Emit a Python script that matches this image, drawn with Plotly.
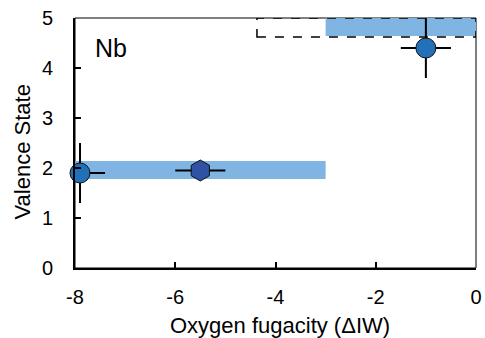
import plotly.graph_objects as go

# Data
circle_x = [-7.9, -1.0]
circle_y = [1.9, 4.4]
circle_xerr_plus = [0.5, 0.5]
circle_xerr_minus = [0.1, 0.5]
circle_yerr = [0.6, 0.6]

hex_x = [-5.5]
hex_y = [1.95]
hex_xerr = [0.5]

band_low_x = [-8.0, -3.0]
band_low_y = [1.78, 2.14]
band_high_x = [-3.0, 0.0]
band_high_y = [4.64, 5.0]
dash_box_x = [-4.37, 0.0]
dash_box_y = [4.62, 5.0]

x_ticks = [-8, -6, -4, -2, 0]
x_tick_labels = ["-8", "-6", "-4", "-2", "0"]
y_ticks = [0, 1, 2, 3, 4, 5]

FONT = "Liberation Sans, Arial, sans-serif"

fig = go.Figure()

# bands
fig.add_shape(type="rect", xref="x", yref="y", x0=band_low_x[0], x1=band_low_x[1],
              y0=band_low_y[0], y1=band_low_y[1], fillcolor="#80B4E2", line_width=0, layer="below")
fig.add_shape(type="rect", xref="x", yref="y", x0=band_high_x[0], x1=band_high_x[1],
              y0=band_high_y[0], y1=band_high_y[1], fillcolor="#80B4E2", line_width=0, layer="below")
fig.add_shape(type="rect", xref="x", yref="y", x0=dash_box_x[0], x1=dash_box_x[1],
              y0=dash_box_y[0], y1=dash_box_y[1], fillcolor="rgba(0,0,0,0)",
              line=dict(color="black", width=1.5, dash="dash"))
# thin top/right frame
fig.add_shape(type="rect", xref="paper", yref="paper", x0=0, x1=1, y0=0, y1=1,
              line=dict(color="black", width=1), fillcolor="rgba(0,0,0,0)", layer="below")

fig.add_trace(go.Scatter(
    x=hex_x, y=hex_y, mode="markers",
    marker=dict(symbol="hexagon", size=21, color="#3052A4", line=dict(color="#111", width=1)),
    error_x=dict(type="data", array=hex_xerr, color="black", thickness=2, width=0),
    cliponaxis=False, showlegend=False))

fig.add_trace(go.Scatter(
    x=circle_x, y=circle_y, mode="markers",
    marker=dict(symbol="circle", size=20, color="#2170B8", line=dict(color="#111", width=1)),
    error_x=dict(type="data", symmetric=False, array=circle_xerr_plus, arrayminus=circle_xerr_minus,
                 color="black", thickness=2, width=0),
    error_y=dict(type="data", array=circle_yerr, color="black", thickness=2, width=0),
    cliponaxis=False, showlegend=False))

fig.add_annotation(x=-7.64, y=4.4, xref="x", yref="y", text="Nb", showarrow=False,
                   xanchor="left", yanchor="middle", font=dict(family=FONT, size=25, color="black"))
fig.add_annotation(xref="paper", yref="paper", x=-0.131, y=0.464, text="Valence State", textangle=-90,
                   showarrow=False, xanchor="center", yanchor="middle",
                   font=dict(family=FONT, size=22, color="black"))
fig.add_annotation(xref="paper", yref="paper", x=0.51, y=-0.228, text="Oxygen fugacity (ΔIW)",
                   showarrow=False, xanchor="center", yanchor="middle",
                   font=dict(family=FONT, size=22, color="black"))

fig.update_layout(
    width=485, height=338,
    margin=dict(l=75, r=9, t=18, b=70, autoexpand=False),
    paper_bgcolor="white", plot_bgcolor="white",
    font=dict(family=FONT, size=20, color="black"),
    xaxis=dict(range=[-8, 0], tickvals=x_ticks, ticktext=x_tick_labels, ticks="inside", ticklen=6,
               tickwidth=1.5, tickcolor="black", showline=True, linecolor="black", linewidth=2,
               showgrid=False, zeroline=False, ticklabelstandoff=10, automargin=False,
               ticklabeloverflow="allow", tickfont=dict(family=FONT, size=20)),
    yaxis=dict(range=[0, 5], tickvals=y_ticks, ticks="inside", ticklen=6, tickwidth=1.5,
               tickcolor="black", showline=True, linecolor="black", linewidth=2,
               showgrid=False, zeroline=False, ticklabelstandoff=16, automargin=False,
               ticklabeloverflow="allow", tickfont=dict(family=FONT, size=20)),
)

fig.write_html("out.html", config={"displayModeBar": False},
               post_script="document.body.style.margin='0';document.body.style.overflow='hidden';")
